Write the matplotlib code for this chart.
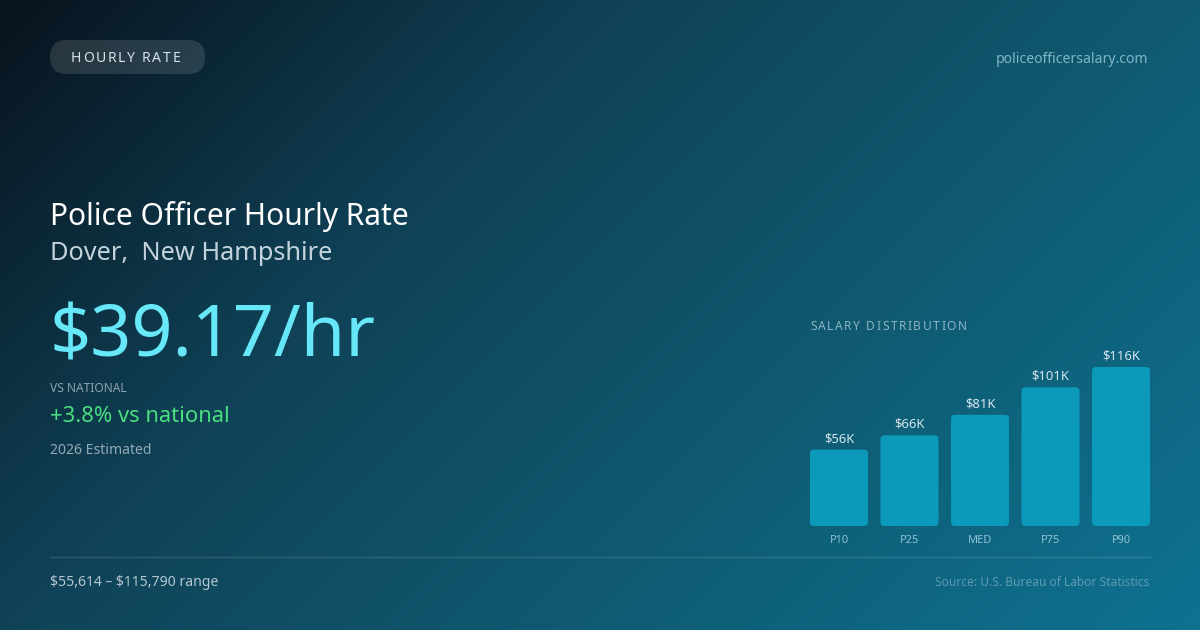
import numpy as np
import matplotlib
matplotlib.use("Agg")
import matplotlib.pyplot as plt
from matplotlib.patches import FancyBboxPatch
from matplotlib.colors import to_rgb
from matplotlib.font_manager import FontProperties, findfont
from matplotlib.ft2font import FT2Font

W, H = 1200, 630
DPI = 100

# ---- data ----
categories = ["P10", "P25", "MED", "P75", "P90"]
salaries = [55614, 66000, 81000, 101000, 115790]
hourly_rate = 39.17
vs_national_pct = 3.8
range_low, range_high = 55614, 115790
title = "Police Officer Hourly Rate"
subtitle = "Dover,  New Hampshire"
badge = "HOURLY RATE"
site = "policeofficersalary.com"
source = "Source: U.S. Bureau of Labor Statistics"
year_label = "2026 Estimated"

plt.rcParams['font.family'] = ['Noto Sans', 'DejaVu Sans']
FAM = 'Noto Sans'


def pt(px):
    return px * 72.0 / DPI


fig = plt.figure(figsize=(W / DPI, H / DPI), dpi=DPI)

# ---- background gradient ----
bg = fig.add_axes([0, 0, 1, 1])
yy, xx = np.mgrid[0:H, 0:W]
t = (xx + yy) / (W + H)
stops = [(0.0, '#09131d'), (0.34, '#0f4257'), (0.66, '#0f5b72'), (1.0, '#0e7292')]
pos = [s[0] for s in stops]
cols = np.array([to_rgb(s[1]) for s in stops])
img = np.stack([np.interp(t, pos, cols[:, k]) for k in range(3)], axis=-1)
bg.imshow(img, extent=[0, W, H, 0], aspect='auto', interpolation='bilinear')
bg.set_xlim(0, W)
bg.set_ylim(H, 0)
bg.axis('off')


def txt(x, y, s, size_px, color, ha='left', **kw):
    bg.text(x, y, s, fontsize=pt(size_px), color=color, ha=ha, va='baseline',
            family=FAM, parse_math=False, **kw)


def spaced_text(x, y, s, size_px, spacing_px, color):
    prop = FontProperties(family=FAM, size=pt(size_px))
    font = FT2Font(findfont(prop))
    font.set_size(pt(size_px), DPI)
    cx = x
    for ch in s:
        if ch != ' ':
            bg.text(cx, y, ch, fontproperties=prop, color=color, va='baseline',
                    ha='left', parse_math=False)
        g = font.load_char(ord(ch))
        cx += g.linearHoriAdvance / 65536.0 + spacing_px


# badge pill
pill = FancyBboxPatch((50, 40), 155, 34, boxstyle="round,pad=0,rounding_size=17",
                      facecolor='white', alpha=0.12, edgecolor='none')
bg.add_patch(pill)
spaced_text(71, 62.5, badge, 14, 1.7, '#d6e2e8')

txt(1148, 63, site, 14, '#7fb6c9', ha='right')

txt(50, 225, title, 30, '#ffffff')
txt(50, 260, subtitle, 25.3, '#c3d3dc')
txt(50, 357, f"${hourly_rate:.2f}/hr", 72, '#67e8f9')
txt(50, 392, "VS NATIONAL", 12, '#8ea3af')
txt(50, 422, f"+{vs_national_pct:.1f}% vs national", 22, '#4ade80')
txt(50, 454, year_label, 14, '#93a9b4')

bg.plot([50, 1150], [556.5, 556.5], color='white', alpha=0.13, lw=1)
txt(50, 586, f"${range_low:,} – ${range_high:,} range", 14, '#b4c6cf')
txt(1149, 586, source, 12, '#5d9bb0', ha='right')

spaced_text(810, 330, "SALARY DISTRIBUTION", 12, 1.55, '#8db3c3')

# ---- bar chart ----
ax = fig.add_axes([810 / W, (H - 526) / H, 340 / W, 160 / H])
x0, x1 = -0.411, 4.411
ymax = 116500
ax.set_xlim(x0, x1)
ax.set_ylim(0, ymax)
ax.axis('off')
bw = 0.823
px_per_x = 340 / (x1 - x0)
px_per_y = 160 / ymax
r = 4 / px_per_x
for i, (cat, v) in enumerate(zip(categories, salaries)):
    p = FancyBboxPatch((i - bw / 2, 0), bw, v,
                       boxstyle=f"round,pad=0,rounding_size={r}",
                       mutation_aspect=px_per_x / px_per_y,
                       facecolor='#0b9ab9', edgecolor='none', clip_on=False)
    ax.add_patch(p)
    ax.annotate(f"${round(v / 1000)}K", (i, v), xytext=(0, pt(7.5)),
                textcoords='offset points', ha='center', va='baseline',
                fontsize=pt(13), color='#d5e6ee', family=FAM, parse_math=False,
                annotation_clip=False)
    ax.annotate(cat, (i, 0), xytext=(0, -pt(17)), textcoords='offset points',
                ha='center', va='baseline', fontsize=pt(11), color='#8ec3d3',
                family=FAM, annotation_clip=False)

fig.savefig("out.png", dpi=DPI)
